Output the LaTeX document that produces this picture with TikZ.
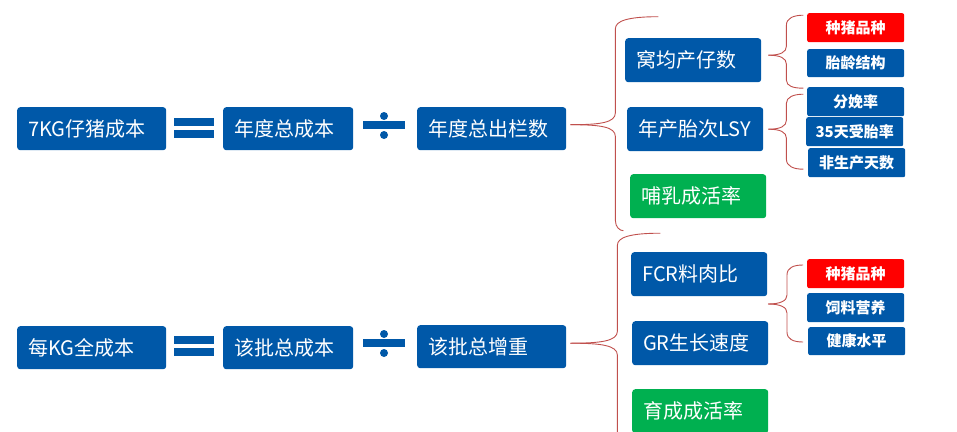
\documentclass[tikz,border=0pt]{standalone}
\usepackage{fontspec}
\newfontfamily\cjk{Noto Sans CJK SC}
\definecolor{boxblue}{RGB}{0,88,168}
\definecolor{boxgreen}{RGB}{0,176,80}
\definecolor{boxred}{RGB}{255,0,0}
\definecolor{bracered}{RGB}{192,80,77}
\begin{document}
\begin{tikzpicture}[
    x=1pt, y=-1pt,
    bigbox/.style={fill=boxblue,rounded corners=3pt,text=white,anchor=north west,
      inner xsep=11pt,inner ysep=0pt,minimum height=43pt,align=left,
      font=\cjk\fontsize{20}{22}\selectfont},
    midbox/.style={bigbox,text width=114pt,minimum height=44pt},
    okbox/.style={midbox,fill=boxgreen},
    tagbox/.style={fill=boxblue,rounded corners=2pt,text=white,anchor=north west,
      inner sep=0pt,minimum width=97pt,minimum height=29pt,
      font=\cjk\bfseries\fontsize{15}{17}\selectfont},
    keybox/.style={tagbox,fill=boxred},
    sign/.style={fill=boxblue},
    brace/.style={draw=bracered,line width=0.9pt},
  ]
  \useasboundingbox (0,0) rectangle (957,431);
  \clip (0,0) rectangle (957,431);
  \node[bigbox, text width=127pt] (pig) at (17,107) {7KG仔猪成本};
  \node[bigbox, text width=108pt] (yearcost) at (223,107) {年度总成本};
  \node[bigbox, text width=127pt] (chulan) at (417,107) {年度总出栏数};
  \node[bigbox, text width=127pt] (kgcost) at (17,326) {每KG全成本};
  \node[bigbox, text width=108pt] (batchcost) at (223,326) {该批总成本};
  \node[bigbox, text width=127pt] (gain) at (417,325) {该批总增重};
  \foreach \y in {0,218}{
      \fill[sign] (174,118+\y) rectangle (214,126+\y);
      \fill[sign] (174,130+\y) rectangle (214,138+\y);
      \fill[sign] (363,121+\y) rectangle (405,129+\y);
      \fill[sign] (384,116+\y) circle (4);
      \fill[sign] (384,135+\y) circle (4);
    }
  \node[midbox] (nest) at (625,38) {窝均产仔数};
  \node[midbox] (lsy) at (627,107) {年产胎次LSY};
  \node[okbox] (wean) at (630,174) {哺乳成活率};
  \node[midbox] (fcr) at (631,252) {FCR料肉比};
  \node[midbox] (gr) at (632,321) {GR生长速度};
  \node[okbox] (rear) at (632,389) {育成成活率};
  \node[keybox] (breed1) at (807,13) {种猪品种};
  \node[tagbox, minimum height=28pt] (parity) at (807,49) {胎龄结构};
  \node[tagbox] (farrow) at (807,87) {分娩率};
  \node[tagbox] (conceive) at (806,117) {35天受胎率};
  \node[tagbox] (npd) at (808,148) {非生产天数};
  \node[keybox] (breed2) at (807,259) {种猪品种};
  \node[tagbox] (feed) at (807,293) {饲料营养};
  \node[tagbox, minimum height=28pt] (health) at (808,327) {健康水平};
  \draw[brace] ([xshift=4pt,yshift=4pt]chulan.east) coordinate (tipA)
    .. controls +(30,0) and +(0,10) .. ++(45,-12) -- ++(0,-84)
    .. controls +(0,-8) and +(-30,0) .. ++(43,-12);
  \draw[brace] (tipA) .. controls +(30,0) and +(0,-10) .. ++(45,12) -- ++(0,84)
    .. controls +(0,6) and +(-4,0) .. ++(8,10);
  \draw[brace] ([xshift=4pt,yshift=3.5pt]gain.east) coordinate (tipB)
    .. controls +(30,0) and +(0,10) .. ++(47,-12) -- ++(0,-86)
    .. controls +(0,-8) and +(-30,0) .. ++(43,-12);
  \draw[brace] (tipB) .. controls +(30,0) and +(0,-10) .. ++(47,12) -- ++(0,100);
  \draw[brace] ([xshift=7pt,yshift=5pt]nest.east) coordinate (tipC)
    .. controls +(12,0) and +(0,6) .. ++(18,-9) -- ++(0,-21)
    .. controls +(0,-7) and +(-10,0) .. ++(17,-10);
  \draw[brace] (tipC) .. controls +(12,0) and +(0,-6) .. ++(18,9) -- ++(0,16)
    .. controls +(0,6) and +(-10,0) .. ++(17,8);
  \draw[brace] ([xshift=5pt]lsy.east) coordinate (tipD)
    .. controls +(12,0) and +(0,6) .. ++(18,-9) -- ++(0,-17)
    .. controls +(0,-6) and +(-10,0) .. ++(17,-9);
  \draw[brace] (tipD) .. controls +(12,0) and +(0,-6) .. ++(18,9) -- ++(0,21)
    .. controls +(0,7) and +(-10,0) .. ++(17,10);
  \coordinate (tipE) at (768,304);
  \draw[brace] (tipE) .. controls +(12,0) and +(0,6) .. ++(19,-9) -- ++(0,-20)
    .. controls +(0,-7) and +(-10,0) .. ++(16,-10);
  \draw[brace] (tipE) .. controls +(12,0) and +(0,-6) .. ++(19,9) -- ++(0,19)
    .. controls +(0,7) and +(-10,0) .. ++(16,10);
\end{tikzpicture}
\end{document}
